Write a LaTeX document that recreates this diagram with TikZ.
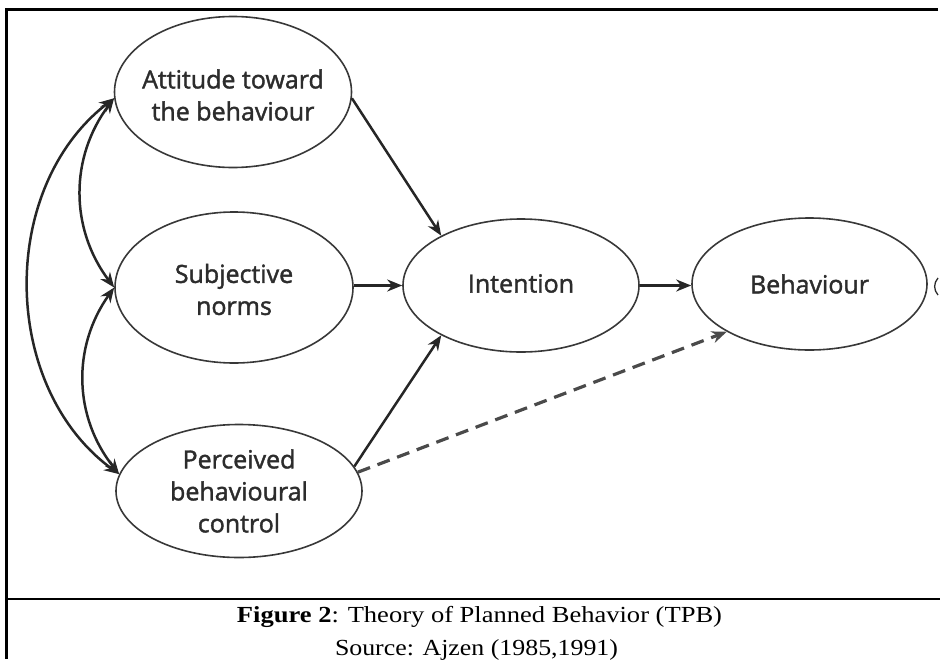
\documentclass[tikz,border=0pt]{standalone}
\usepackage{fontspec}
\usepackage{graphicx}
\setmainfont{Liberation Serif}
\newfontfamily\diagfont[FakeBold=1.6]{Open Sans}
\usetikzlibrary{shapes.geometric,arrows.meta}
\definecolor{linec}{HTML}{383838}
\definecolor{arrowc}{HTML}{262626}
\definecolor{textc}{HTML}{2C2C2C}
\definecolor{dashc}{HTML}{4A4A4A}
\begin{document}
\begin{tikzpicture}[x=1pt,y=-1pt,
  bubble/.style={draw=linec, line width=1.6pt, ellipse, inner sep=0pt},
  lbl/.style={font=\diagfont\fontsize{25}{32}\selectfont, text=textc, align=center},
  link/.style={draw=arrowc, line width=2.5pt, -{Stealth[length=15pt,width=12pt]}},
  twoway/.style={draw=arrowc, line width=2.5pt, {Stealth[length=15pt,width=12pt]}-{Stealth[length=15pt,width=12pt]}},
  guess/.style={draw=dashc, line width=3.2pt, dash pattern=on 13pt off 8pt, -{Stealth[length=15pt,width=12pt]}},
  frame/.style={draw=black, line width=2.2pt},
  captxt/.style={font=\fontsize{23}{26}\selectfont, anchor=base, inner sep=0pt},
]
\useasboundingbox (0,0) rectangle (940,659);

% page frame and caption divider
\draw[frame] (938,9.5) -- (6.5,9.5) -- (6.5,659);
\draw[frame] (6.5,599) -- (940,599);

% construct ellipses
\node[bubble, minimum width=237pt, minimum height=151pt] (att) at (233,92) {};
\node[bubble, minimum width=238pt, minimum height=151pt] (sub) at (234,287.5) {};
\node[bubble, minimum width=246pt, minimum height=133pt] (per) at (239,491) {};
\node[bubble, minimum width=236pt, minimum height=133pt] (int) at (521,285.5) {};
\node[bubble, minimum width=235pt, minimum height=132pt] (beh) at (809.5,284) {};

\node[lbl] (att-t) at ([yshift=-3pt]att.center) {Attitude toward\\the behaviour};
\node[lbl] (sub-t) at ([yshift=-2pt]sub.center) {Subjective\\norms};
\node[lbl] (per-t) at (per) {Perceived\\behavioural\\control};
\node[lbl] (int-t) at ([yshift=2pt]int.center) {Intention};
\node[lbl] (beh-t) at (beh) {Behaviour};

% correlations between the antecedents
\draw[twoway] (att.183) to[bend right=37] (sub.west);
\draw[twoway] (sub.west) to[bend right=37] (per.172);
\draw[twoway] (att.183) to[bend right=53] (per.172);

% causal paths
\draw[link] (att.-3) -- (int.148);
\draw[link] (sub.east |- int.west) -- (int.west);
\draw[link] (per.12) -- (int.212);
\draw[link] (int.east) -- (int.east -| beh.west);
\draw[guess] (per.9) -- (beh.210);

% clipped glyph at the right edge
\draw[textc, line width=1.3pt] (938,278) .. controls (933.5,283) and (933.5,290) .. (938,295);

% caption
\node[captxt] (cap1) at (479.5,622) {\resizebox{485pt}{\height}{\textbf{Figure 2}: Theory of Planned Behavior (TPB)}};
\node[captxt] (cap2) at (476.5,655) {\resizebox{283pt}{\height}{Source: Ajzen (1985,1991)}};
\end{tikzpicture}
\end{document}
